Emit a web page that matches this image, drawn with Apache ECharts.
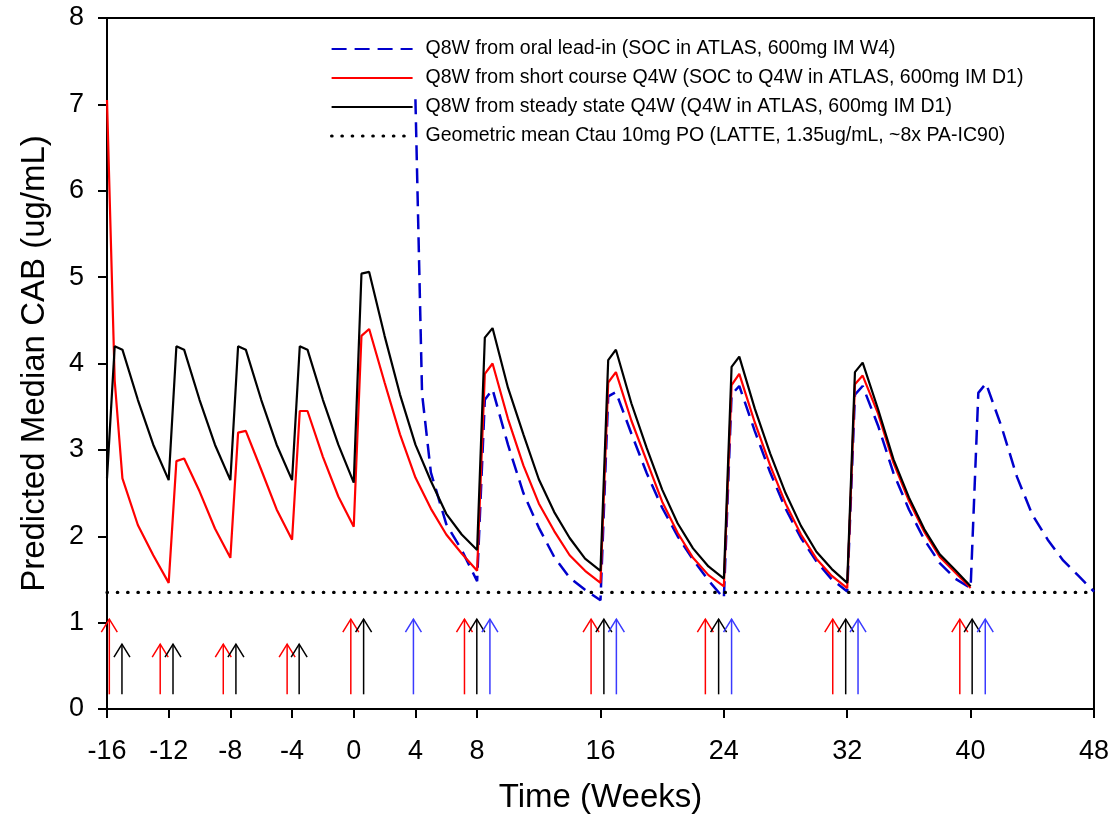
<!DOCTYPE html>
<html><head><meta charset="utf-8">
<script src="https://cdn.jsdelivr.net/npm/echarts@6/dist/echarts.min.js"></script>
<style>html,body{margin:0;padding:0;background:#fff}#chart{width:1112px;height:821px}</style>
</head><body><div id="chart"></div>
<script>
// ---- tick labels ----
const xTickValues = [-16, -12, -8, -4, 0, 4, 8, 16, 24, 32, 40, 48];
const yTickValues = [0, 1, 2, 3, 4, 5, 6, 7, 8];

// ---- series names ----
const nameBlue = 'Q8W from oral lead-in (SOC in ATLAS, 600mg IM W4)';
const nameRed = 'Q8W from short course Q4W (SOC to Q4W in ATLAS, 600mg IM D1)';
const nameBlack = 'Q8W from steady state Q4W (Q4W in ATLAS, 600mg IM D1)';
const nameDot = 'Geometric mean Ctau 10mg PO (LATTE, 1.35ug/mL, ~8x PA-IC90)';

// ---- blue dashed: oral lead-in ----
const blueWeeks = [4, 4.43, 5, 6, 7, 8, 8.5, 9, 10, 11, 12, 13, 14, 15, 16, 16.5, 17, 18, 19, 20, 21, 22, 23, 24, 24.5, 25, 26, 27, 28, 29, 30, 31, 32, 32.5, 33, 34, 35, 36, 37, 38, 39, 40, 40.5, 41, 42, 43, 44, 45, 46, 47, 48];
const blueConc = [7.06, 3.65, 2.74, 2.14, 1.84, 1.48, 3.58, 3.70, 3.06, 2.50, 2.10, 1.76, 1.52, 1.38, 1.26, 3.62, 3.67, 3.19, 2.73, 2.33, 2.00, 1.73, 1.49, 1.28, 3.64, 3.74, 3.22, 2.74, 2.32, 1.98, 1.71, 1.50, 1.36, 3.64, 3.74, 3.28, 2.73, 2.31, 1.96, 1.69, 1.51, 1.40, 3.66, 3.77, 3.27, 2.69, 2.25, 1.96, 1.72, 1.54, 1.36];

// ---- red / black share the same time grid ----
const q4wWeeks = [-16, -15.5, -15, -14, -13, -12, -11.5, -11, -10, -9, -8, -7.5, -7, -6, -5, -4, -3.5, -3, -2, -1, 0, 0.5, 1, 2, 3, 4, 5, 6, 7, 8, 8.5, 9, 10, 11, 12, 13, 14, 15, 16, 16.5, 17, 18, 19, 20, 21, 22, 23, 24, 24.5, 25, 26, 27, 28, 29, 30, 31, 32, 32.5, 33, 34, 35, 36, 37, 38, 39, 40];
const redConc = [7.05, 3.80, 2.67, 2.13, 1.78, 1.46, 2.87, 2.90, 2.52, 2.09, 1.75, 3.20, 3.22, 2.77, 2.31, 1.96, 3.45, 3.45, 2.92, 2.46, 2.11, 4.32, 4.40, 3.78, 3.18, 2.68, 2.32, 2.02, 1.80, 1.60, 3.88, 4.00, 3.36, 2.82, 2.38, 2.06, 1.78, 1.60, 1.46, 3.78, 3.90, 3.34, 2.87, 2.40, 2.04, 1.75, 1.55, 1.42, 3.75, 3.88, 3.32, 2.82, 2.38, 2.02, 1.74, 1.54, 1.40, 3.76, 3.86, 3.42, 2.85, 2.41, 2.05, 1.76, 1.58, 1.40];
const blackConc = [2.67, 4.20, 4.16, 3.58, 3.06, 2.65, 4.20, 4.16, 3.58, 3.06, 2.65, 4.20, 4.16, 3.58, 3.06, 2.65, 4.20, 4.16, 3.58, 3.06, 2.62, 5.04, 5.06, 4.32, 3.64, 3.06, 2.64, 2.26, 2.02, 1.84, 4.30, 4.41, 3.72, 3.18, 2.66, 2.28, 1.98, 1.74, 1.60, 4.04, 4.16, 3.54, 3.02, 2.54, 2.15, 1.86, 1.65, 1.51, 3.96, 4.08, 3.48, 2.96, 2.50, 2.12, 1.82, 1.62, 1.46, 3.90, 4.01, 3.47, 2.89, 2.45, 2.08, 1.79, 1.61, 1.42];

// ---- reference level ----
const ctauWeeks = [-16, 48];
const ctauLevel = 1.35;

// ---- dosing arrows (week, tip value) ----
const arrowBase = 0.17;
const redArrowWeeks = [-15.85, -12.55, -8.46, -4.32, -0.19, 7.18, 15.39, 22.8, 31.06, 39.3];
const redArrowTops = [1.04, 0.75, 0.75, 0.75, 1.04, 1.04, 1.04, 1.04, 1.04, 1.04];
const blackArrowWeeks = [-15.03, -11.72, -7.64, -3.54, 0.64, 7.98, 16.22, 23.66, 31.9, 40.1];
const blackArrowTops = [0.75, 0.75, 0.75, 0.75, 1.04, 1.04, 1.04, 1.04, 1.04, 1.04];
const blueArrowWeeks = [3.87, 8.83, 17.03, 24.5, 32.7, 40.95];
const blueArrowTops = [1.04, 1.04, 1.04, 1.04, 1.04, 1.04];

const FONT = "'Liberation Sans', Arial, sans-serif";
const zip = (a, b) => a.map((v, i) => [v, b[i]]);

function arrowSeries(weeks, tops, color) {
  return {
    type: 'custom',
    coordinateSystem: 'cartesian2d',
    silent: true,
    z: 5,
    data: zip(weeks, tops),
    renderItem: function (params, api) {
      const x = api.value(0), top = api.value(1);
      const p0 = api.coord([x, arrowBase]);
      const p1 = api.coord([x, top]);
      return {
        type: 'group',
        children: [
          { type: 'line', shape: { x1: p0[0], y1: p0[1], x2: p1[0], y2: p1[1] },
            style: { stroke: color, lineWidth: 1.5 } },
          { type: 'polyline', shape: { points: [[p1[0] - 8, p1[1] + 13], [p1[0], p1[1]], [p1[0] + 8, p1[1] + 13]] },
            style: { stroke: color, fill: null, lineWidth: 1.5 } }
        ]
      };
    }
  };
}

const chart = echarts.init(document.getElementById('chart'), null, { renderer: 'canvas' });
chart.setOption({
  animation: false,
  backgroundColor: '#fff',
  textStyle: { fontFamily: FONT },
  grid: { left: 107, right: 17, top: 18, bottom: 112, show: true, borderColor: '#000', borderWidth: 2, backgroundColor: 'transparent' },
  legend: {
    orient: 'vertical',
    left: 325, top: 33,
    itemWidth: 81, itemHeight: 14, itemGap: 7,
    data: [
      { name: nameBlue },
      { name: nameRed },
      { name: nameBlack },
      { name: nameDot, lineStyle: { width: 3.2 } }
    ],
    itemStyle: { opacity: 0, borderWidth: 0 },
    textStyle: { fontFamily: FONT, fontSize: 19.5, color: '#000', lineHeight: 22, padding: [0, 0, 0, 8] },
    selectedMode: false
  },
  xAxis: {
    type: 'value', min: -16, max: 48, interval: 4,
    name: 'Time (Weeks)', nameLocation: 'middle', nameGap: 72,
    nameTextStyle: { fontFamily: FONT, fontSize: 33, color: '#000' },
    axisLine: { onZero: false, lineStyle: { color: '#000', width: 2 } },
    axisTick: { show: true, inside: false, length: 9, lineStyle: { color: '#000', width: 2 }, customValues: xTickValues },
    axisLabel: { fontFamily: FONT, fontSize: 27, color: '#000', margin: 29, customValues: xTickValues, formatter: v => String(v) },
    splitLine: { show: false }
  },
  yAxis: {
    type: 'value', min: 0, max: 8, interval: 1,
    name: 'Predicted Median CAB (ug/mL)', nameLocation: 'middle', nameGap: 56,
    nameTextStyle: { fontFamily: FONT, fontSize: 33, color: '#000' },
    axisLine: { show: true, onZero: false, lineStyle: { color: '#000', width: 2 } },
    axisTick: { show: true, inside: false, length: 9, lineStyle: { color: '#000', width: 2 }, customValues: yTickValues },
    axisLabel: { fontFamily: FONT, fontSize: 27, color: '#000', margin: 23, customValues: yTickValues },
    splitLine: { show: false }
  },
  series: [
    { name: nameBlue, type: 'line', symbol: 'none', data: zip(blueWeeks, blueConc),
      lineStyle: { color: '#0000cc', width: 2.5, type: [15, 8] }, itemStyle: { color: '#0000cc' }, z: 3 },
    { name: nameRed, type: 'line', symbol: 'none', data: zip(q4wWeeks, redConc),
      lineStyle: { color: '#ff0000', width: 2.2 }, itemStyle: { color: '#ff0000' }, z: 3 },
    { name: nameBlack, type: 'line', symbol: 'none', data: zip(q4wWeeks, blackConc),
      lineStyle: { color: '#000000', width: 2.2 }, itemStyle: { color: '#000000' }, z: 3 },
    { name: nameDot, type: 'line', symbol: 'none', data: ctauWeeks.map(w => [w, ctauLevel]),
      lineStyle: { color: '#000000', width: 3.2, type: [0.5, 9.8], cap: 'round' }, itemStyle: { color: '#000000' }, z: 4 },
    arrowSeries(redArrowWeeks, redArrowTops, '#ff0000'),
    arrowSeries(blackArrowWeeks, blackArrowTops, '#000000'),
    arrowSeries(blueArrowWeeks, blueArrowTops, '#3a3aff')
  ]
});
</script></body></html>
